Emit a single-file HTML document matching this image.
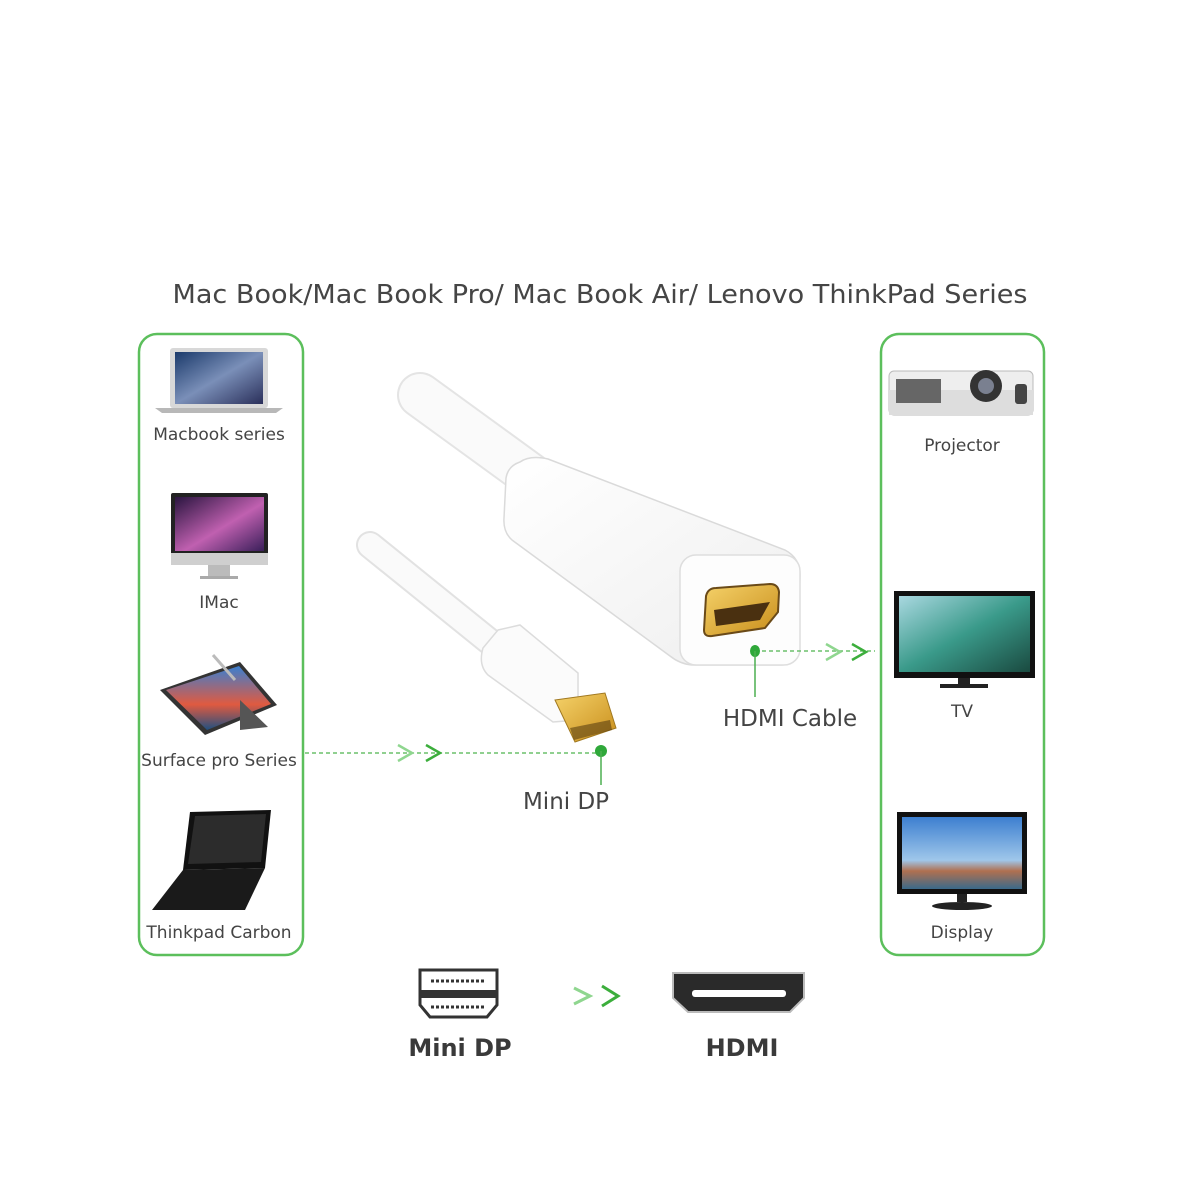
<!DOCTYPE html>
<html><head><meta charset="utf-8"><style>
html,body{margin:0;padding:0;background:#fff}
svg{display:block}
text{font-family:"DejaVu Sans","Liberation Sans",sans-serif}
</style></head><body>
<svg width="1200" height="1200" viewBox="0 0 1200 1200" xmlns="http://www.w3.org/2000/svg">
<defs>
<linearGradient id="scr1" x1="0" y1="0" x2="1" y2="1"><stop offset="0" stop-color="#1b3a6b"/><stop offset=".5" stop-color="#7a8fb8"/><stop offset="1" stop-color="#2a2f5a"/></linearGradient>
<linearGradient id="scr2" x1="0" y1="0" x2="1" y2="1"><stop offset="0" stop-color="#2a1540"/><stop offset=".55" stop-color="#c060b0"/><stop offset="1" stop-color="#3a1f5a"/></linearGradient>
<linearGradient id="scr3" x1="0" y1="0" x2="0" y2="1"><stop offset="0" stop-color="#3a7fd0"/><stop offset=".6" stop-color="#e05a40"/><stop offset="1" stop-color="#205080"/></linearGradient>
<linearGradient id="scrTV" x1="0" y1="0" x2="1" y2="1"><stop offset="0" stop-color="#a9d8e0"/><stop offset=".5" stop-color="#3a9a8a"/><stop offset="1" stop-color="#1a4a40"/></linearGradient>
<linearGradient id="scrD" x1="0" y1="0" x2="0" y2="1"><stop offset="0" stop-color="#3d7fd0"/><stop offset=".6" stop-color="#9fc7ea"/><stop offset=".75" stop-color="#b07050"/><stop offset="1" stop-color="#3a6a8a"/></linearGradient>
<linearGradient id="gold" x1="0" y1="0" x2="1" y2="1"><stop offset="0" stop-color="#f5d26a"/><stop offset="1" stop-color="#c88d1a"/></linearGradient>
<linearGradient id="wbody" x1="0" y1="0" x2="1" y2="1"><stop offset="0" stop-color="#ffffff"/><stop offset="1" stop-color="#eeeeee"/></linearGradient>
</defs>

<text x="600" y="303" font-size="26" fill="#454545" text-anchor="middle" textLength="855" lengthAdjust="spacingAndGlyphs">Mac Book/Mac Book Pro/ Mac Book Air/ Lenovo ThinkPad Series</text>

<rect x="139" y="334" width="164" height="621" rx="18" fill="none" stroke="#5cbf5c" stroke-width="2.5"/>
<rect x="881" y="334" width="163" height="621" rx="18" fill="none" stroke="#5cbf5c" stroke-width="2.5"/>

<rect x="170" y="348" width="98" height="60" rx="3" fill="#d8d8d8"/>
<rect x="175" y="352" width="88" height="52" fill="url(#scr1)"/>
<path d="M155 408 L283 408 L276 413 L162 413 Z" fill="#b8b8b8"/>
<text x="219" y="440" font-size="17" fill="#444" text-anchor="middle">Macbook series</text>
<rect x="171" y="493" width="97" height="72" rx="2" fill="#222"/>
<rect x="175" y="497" width="89" height="54" fill="url(#scr2)"/>
<rect x="171" y="553" width="97" height="12" fill="#cfcfcf"/>
<rect x="208" y="565" width="22" height="11" fill="#bbb"/>
<rect x="200" y="576" width="38" height="3" fill="#aaa"/>
<text x="219" y="608" font-size="17" fill="#444" text-anchor="middle">IMac</text>
<path d="M160 690 L240 662 L277 705 L205 735 Z" fill="#333"/>
<path d="M166 690 L239 666 L271 704 L207 730 Z" fill="url(#scr3)"/>
<path d="M240 700 L268 727 L240 730 Z" fill="#555"/>
<line x1="213" y1="655" x2="235" y2="680" stroke="#bbb" stroke-width="3"/>
<text x="219" y="766" font-size="17" fill="#444" text-anchor="middle">Surface pro Series</text>
<path d="M190 812 L271 810 L265 868 L183 870 Z" fill="#111"/>
<path d="M195 816 L266 814 L261 862 L188 864 Z" fill="#2c2c2c"/>
<path d="M183 870 L265 868 L245 910 L152 910 Z" fill="#1a1a1a"/>
<text x="219" y="938" font-size="17" fill="#444" text-anchor="middle">Thinkpad Carbon</text>

<rect x="889" y="371" width="144" height="44" rx="5" fill="#eee" stroke="#bbb"/>
<rect x="889" y="390" width="144" height="25" fill="#ddd"/>
<rect x="896" y="379" width="45" height="24" fill="#666"/>
<circle cx="986" cy="386" r="16" fill="#333"/><circle cx="986" cy="386" r="8" fill="#7a8090"/>
<rect x="1015" y="384" width="12" height="20" rx="3" fill="#444"/>
<text x="962" y="451" font-size="17" fill="#444" text-anchor="middle">Projector</text>
<rect x="894" y="591" width="141" height="87" fill="#111"/>
<rect x="899" y="596" width="131" height="76" fill="url(#scrTV)"/>
<rect x="958" y="678" width="12" height="6" fill="#222"/>
<rect x="940" y="684" width="48" height="4" fill="#222"/>
<text x="962" y="717" font-size="17" fill="#444" text-anchor="middle">TV</text>
<rect x="897" y="812" width="130" height="82" fill="#111"/>
<rect x="902" y="817" width="120" height="72" fill="url(#scrD)"/>
<rect x="957" y="894" width="10" height="8" fill="#222"/>
<ellipse cx="962" cy="906" rx="30" ry="4" fill="#222"/>
<text x="962" y="938" font-size="17" fill="#444" text-anchor="middle">Display</text>

<!-- cables -->
<line x1="420" y1="395" x2="530" y2="475" stroke="#e4e4e4" stroke-width="46" stroke-linecap="round"/>
<line x1="420" y1="395" x2="530" y2="475" stroke="#fafafa" stroke-width="42" stroke-linecap="round"/>
<line x1="370" y1="545" x2="500" y2="650" stroke="#e2e2e2" stroke-width="28" stroke-linecap="round"/>
<line x1="370" y1="545" x2="500" y2="650" stroke="#fafafa" stroke-width="24" stroke-linecap="round"/>
<!-- adapter body -->
<path d="M520 462 Q530 455 548 459 L785 550 Q800 558 800 575 L798 650 Q796 664 782 665 L692 665 Q680 664 670 656 L512 540 Q503 532 504 518 L506 478 Q508 466 520 462 Z" fill="url(#wbody)" stroke="#dadada" stroke-width="1.5"/>
<rect x="680" y="555" width="120" height="110" rx="16" fill="#fdfdfd" stroke="#dedede" stroke-width="1.5"/>
<path d="M706 596 Q708 588 716 588 L770 584 Q778 584 779 592 L778 612 L765 628 L712 636 Q704 637 704 630 Z" fill="url(#gold)" stroke="#6a4a18" stroke-width="2"/>
<path d="M714 610 L770 602 L760 620 L716 626 Z" fill="#4a3010"/>
<!-- mini dp plug -->
<path d="M498 630 L520 625 L578 673 L578 720 L553 722 L488 675 Q478 665 483 648 Z" fill="#fbfbfb" stroke="#dcdcdc" stroke-width="1.5"/>
<path d="M555 700 L605 693 L616 728 L575 742 Z" fill="url(#gold)" stroke="#a07820"/>
<path d="M570 728 L610 720 L612 730 L574 740 Z" fill="#5a4010" opacity=".6"/>

<!-- connectors -->
<line x1="305" y1="753" x2="598" y2="753" stroke="#6cc06c" stroke-width="1.5" stroke-dasharray="4,3"/>
<path d="M398 745 L412 753 L398 761" stroke="#8fd68f" stroke-width="2.5" fill="none"/>
<path d="M426 745 L440 753 L426 761" stroke="#3cae3c" stroke-width="2.5" fill="none"/>
<circle cx="601" cy="751" r="6" fill="#2fa83a"/>
<line x1="601" y1="751" x2="601" y2="785" stroke="#4caf50" stroke-width="1.5"/>
<text x="566" y="809" font-size="23" fill="#444" text-anchor="middle">Mini DP</text>

<line x1="755" y1="651" x2="875" y2="651" stroke="#6cc06c" stroke-width="1.5" stroke-dasharray="4,3"/>
<path d="M826 644 L840 652 L826 660" stroke="#8fd68f" stroke-width="2.5" fill="none"/>
<path d="M852 644 L866 652 L852 660" stroke="#3cae3c" stroke-width="2.5" fill="none"/>
<ellipse cx="755" cy="651" rx="5" ry="6" fill="#2fa83a"/>
<line x1="755" y1="651" x2="755" y2="697" stroke="#4caf50" stroke-width="1.5"/>
<text x="790" y="726" font-size="23" fill="#444" text-anchor="middle">HDMI Cable</text>

<path d="M420 970 L497 970 L497 1005 L487 1017 L430 1017 L420 1005 Z" fill="#fff" stroke="#333" stroke-width="3"/>
<rect x="420" y="990" width="77" height="8" fill="#333"/>
<line x1="431" y1="981" x2="486" y2="981" stroke="#333" stroke-width="3" stroke-dasharray="3,2"/>
<line x1="431" y1="1007" x2="486" y2="1007" stroke="#333" stroke-width="3" stroke-dasharray="3,2"/>
<path d="M574 988 L590 996 L574 1004" stroke="#8fd68f" stroke-width="3" fill="none"/>
<path d="M602 986 L618 996 L602 1006" stroke="#3cae3c" stroke-width="3" fill="none"/>
<path d="M673 973 L804 973 L804 998 L790 1012 L688 1012 L673 998 Z" fill="#2a2a2a" stroke="#bbb" stroke-width="2"/>
<rect x="692" y="990" width="94" height="7" rx="3" fill="#fff"/>
<text x="460" y="1056" font-size="24" font-weight="bold" fill="#3a3a3a" text-anchor="middle">Mini DP</text>
<text x="742" y="1056" font-size="24" font-weight="bold" fill="#3a3a3a" text-anchor="middle">HDMI</text>
</svg>
</body></html>
